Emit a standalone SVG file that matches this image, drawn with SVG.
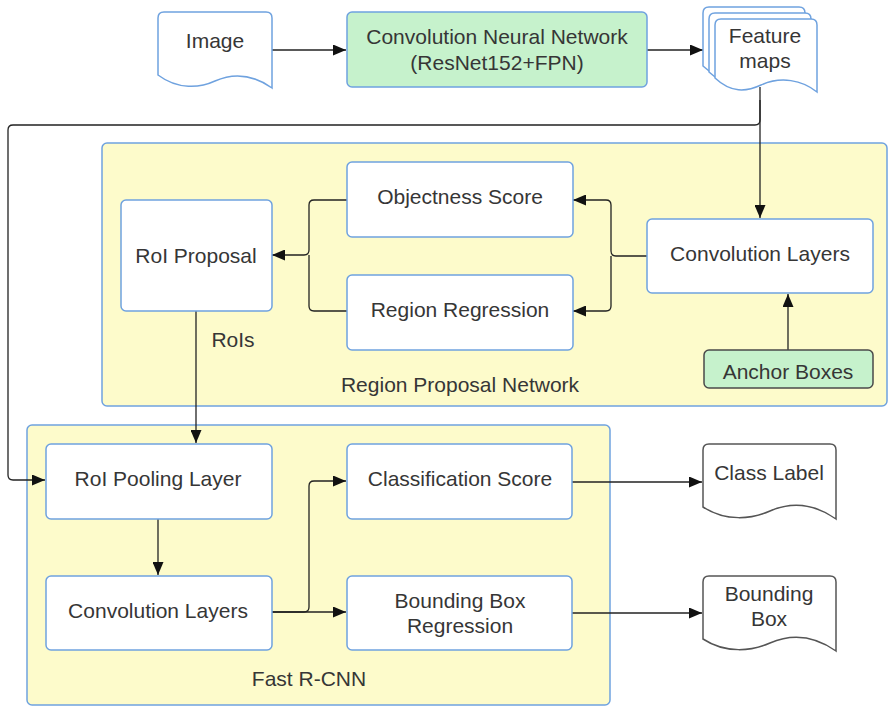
<svg xmlns="http://www.w3.org/2000/svg" width="888" height="706" viewBox="0 0 888 706">
<style>
text{font-family:"Liberation Sans",Arial,sans-serif;font-size:21px;fill:#363636;text-anchor:middle;dominant-baseline:central}
.box{fill:#ffffff;stroke:#6fa2df;stroke-width:1.5}
.green{fill:#c6f2cc;stroke:#6fa2df;stroke-width:1.5}
.green2{fill:#c6f2cc;stroke:#4a4a4a;stroke-width:1.5}
.cont{fill:#fdfbcb;stroke:#6fa2df;stroke-width:1.5}
.doc{fill:#ffffff;stroke:#6fa2df;stroke-width:1.5}
.doc2{fill:#ffffff;stroke:#555555;stroke-width:1.5}
.conn{fill:none;stroke:#222;stroke-width:1.3}
</style>
<defs>
<marker id="arr" markerUnits="userSpaceOnUse" markerWidth="13" markerHeight="11" refX="13" refY="5.5" orient="auto">
<path d="M0,0 L13,5.5 L0,11 Z" fill="#111"/>
</marker>
</defs>
<g id="rpn-container">
<rect class="cont" x="102" y="143" width="785" height="263" rx="5"/>
<text x="460" y="384">Region Proposal Network</text>
</g>
<g id="fast-rcnn-container">
<rect class="cont" x="27" y="425" width="583" height="280" rx="5"/>
<text x="309" y="678">Fast R-CNN</text>
</g>
<g id="connectors">
<path class="conn" d="M272,50 H346" marker-end="url(#arr)"/>
<path class="conn" d="M647,50 H703" marker-end="url(#arr)"/>
<path class="conn" d="M760,87 V218" marker-end="url(#arr)"/>
<path class="conn" d="M760,100 V120 Q760,125 755,125 H13 Q8,125 8,130 V475 Q8,480 13,480 H45" marker-end="url(#arr)"/>
<path class="conn" d="M647,256 H616 Q611,256 611,251 V205 Q611,200 606,200 H573" marker-end="url(#arr)"/>
<path class="conn" d="M611,256 V306 Q611,311 606,311 H573" marker-end="url(#arr)"/>
<path class="conn" d="M347,200 H314 Q309,200 309,205 V250 Q309,255 304,255 H272" marker-end="url(#arr)"/>
<path class="conn" d="M347,311 H314 Q309,311 309,306 V255"/>
<path class="conn" d="M788,350 V294" marker-end="url(#arr)"/>
<path class="conn" d="M196,311 V443" marker-end="url(#arr)"/>
<path class="conn" d="M158,519 V575" marker-end="url(#arr)"/>
<path class="conn" d="M271,612 H346" marker-end="url(#arr)"/>
<path class="conn" d="M271,612 H304 Q309,612 309,607 V486 Q309,481 314,481 H346" marker-end="url(#arr)"/>
<path class="conn" d="M572,482 H702" marker-end="url(#arr)"/>
<path class="conn" d="M572,613 H702" marker-end="url(#arr)"/>
<text x="233" y="339">RoIs</text>
</g>
<g id="image">
<path class="doc" d="M164,12 H266 Q272,12 272,18 V88 C255,76 235,72 215,81 C200,88 178,90 158,75 V18 Q158,12 164,12 Z"/>
<text x="215" y="40">Image</text>
</g>
<g id="cnn">
<rect class="green" x="347" y="12" width="300" height="75" rx="5"/>
<text x="497" y="36">Convolution Neural Network</text>
<text x="497" y="62">(ResNet152+FPN)</text>
</g>
<g id="feature-maps">
<path class="doc" d="M709,7 H799 Q805,7 805,13 V80 C790,68 769,64 749,73 C734,80 719,81 703,66 V13 Q703,7 709,7 Z"/>
<path class="doc" d="M715,13 H805 Q811,13 811,19 V86 C796,74 775,70 755,79 C740,86 725,87 709,72 V19 Q709,13 715,13 Z"/>
<path class="doc" d="M721,19 H811 Q817,19 817,25 V92 C802,80 781,76 761,85 C746,92 731,93 715,78 V25 Q715,19 721,19 Z"/>
<text x="765" y="35">Feature</text>
<text x="765" y="60">maps</text>
</g>
<g id="roi-proposal">
<rect class="box" x="121" y="200" width="151" height="111" rx="5"/>
<text x="196" y="255">RoI Proposal</text>
</g>
<g id="objectness-score">
<rect class="box" x="347" y="162" width="226" height="75" rx="5"/>
<text x="460" y="196">Objectness Score</text>
</g>
<g id="region-regression">
<rect class="box" x="347" y="275" width="226" height="75" rx="5"/>
<text x="460" y="309">Region Regression</text>
</g>
<g id="rpn-conv-layers">
<rect class="box" x="647" y="219" width="226" height="74" rx="5"/>
<text x="760" y="253">Convolution Layers</text>
</g>
<g id="anchor-boxes">
<rect class="green2" x="704" y="350" width="169" height="38" rx="5"/>
<text x="788" y="371">Anchor Boxes</text>
</g>
<g id="roi-pooling">
<rect class="box" x="46" y="444" width="226" height="75" rx="5"/>
<text x="158" y="478">RoI Pooling Layer</text>
</g>
<g id="frcnn-conv-layers">
<rect class="box" x="46" y="576" width="226" height="74" rx="5"/>
<text x="158" y="610">Convolution Layers</text>
</g>
<g id="classification-score">
<rect class="box" x="347" y="444" width="225" height="75" rx="5"/>
<text x="460" y="478">Classification Score</text>
</g>
<g id="bbox-regression">
<rect class="box" x="347" y="576" width="225" height="74" rx="5"/>
<text x="460" y="600">Bounding Box</text>
<text x="460" y="625">Regression</text>
</g>
<g id="class-label">
<path class="doc2" d="M709,444 H830 Q836,444 836,450 V519 C816,505 793,501 770,511 C752,519 726,522 703,507 V450 Q703,444 709,444 Z"/>
<text x="769" y="472">Class Label</text>
</g>
<g id="bounding-box">
<path class="doc2" d="M709,576 H830 Q836,576 836,582 V651 C816,637 793,633 770,643 C752,651 726,654 703,639 V582 Q703,576 709,576 Z"/>
<text x="769" y="593">Bounding</text>
<text x="769" y="618">Box</text>
</g>
</svg>
